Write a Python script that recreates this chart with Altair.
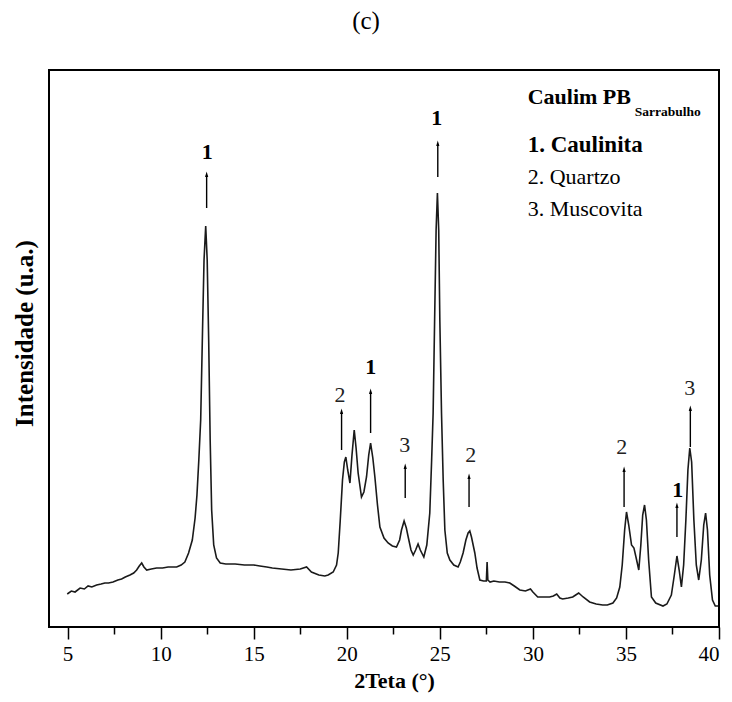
import altair as alt
import pandas as pd

# ---- difratograma (2Teta em graus, intensidade em u.a.) ----
angulo = [4.98, 5.2, 5.4, 5.67, 5.9, 6.1, 6.3, 6.56, 6.8, 7.0, 7.2, 7.44, 7.7, 7.9, 8.1, 8.35,
          8.55, 8.71, 8.85, 8.98, 9.1, 9.25, 9.5, 9.78, 10.1, 10.4, 10.86, 11.1, 11.3, 11.5,
          11.7, 11.85, 11.95, 12.05, 12.15, 12.25, 12.33, 12.42, 12.5, 12.58, 12.66, 12.74,
          12.85, 13.0, 13.2, 13.5, 14.0, 14.5, 15.0, 15.33, 15.7, 16.0, 16.5, 17.0, 17.5,
          17.84, 18.1, 18.5, 18.82, 19.0, 19.27, 19.45, 19.54, 19.65, 19.77, 19.87, 19.95,
          20.05, 20.17, 20.28, 20.4, 20.5, 20.61, 20.79, 20.92, 21.06, 21.18, 21.28, 21.4,
          21.51, 21.65, 21.78, 22.0, 22.22, 22.45, 22.67, 22.84, 22.94, 23.08, 23.2, 23.3,
          23.45, 23.57, 23.7, 23.83, 23.95, 24.14, 24.3, 24.46, 24.56, 24.64, 24.72, 24.8,
          24.87, 24.94, 25.0, 25.09, 25.18, 25.27, 25.4, 25.54, 25.75, 25.98, 26.1, 26.25,
          26.4, 26.52, 26.61, 26.7, 26.88, 27.0, 27.15, 27.35, 27.5, 27.54, 27.58, 27.7,
          27.9, 28.2, 28.5, 28.76, 29.0, 29.3, 29.6, 29.87, 30.0, 30.26, 30.6, 30.9, 31.1,
          31.28, 31.45, 31.6, 31.9, 32.14, 32.3, 32.46, 32.7, 33.05, 33.4, 33.75, 34.0, 34.3,
          34.5, 34.67, 34.8, 34.93, 35.03, 35.15, 35.3, 35.43, 35.55, 35.69, 35.8, 35.9, 36.0,
          36.1, 36.22, 36.37, 36.6, 36.99, 37.2, 37.44, 37.6, 37.74, 37.86, 37.98, 38.1,
          38.22, 38.33, 38.43, 38.53, 38.65, 38.78, 38.91, 39.05, 39.18, 39.28, 39.38, 39.5,
          39.65, 39.8, 39.95]
intensidade = [33, 36, 35, 39, 38, 41, 40, 42, 43, 44, 44, 45, 47, 48, 50, 52,
               54, 57, 61, 64, 60, 57, 58, 59, 59, 60, 60, 62, 65, 74,
               87, 109, 132, 167, 207, 297, 367, 401, 367, 287, 187, 117,
               82, 69, 64, 63, 63, 62, 62, 61, 60, 59, 58, 57, 58,
               60, 55, 52, 51, 52, 55, 62, 74, 107, 147, 165, 170,
               157, 144, 172, 197, 179, 154, 130, 135, 150, 172, 184, 169,
               150, 122, 100, 89, 84, 81, 80, 87, 97, 106, 99, 90,
               77, 72, 77, 83, 77, 70, 82, 114, 167, 214, 307, 397,
               434, 397, 307, 214, 147, 97, 74, 67, 62, 60, 65, 74,
               87, 94, 96, 90, 74, 59, 47, 46, 46, 65, 47, 45,
               46, 45, 45, 44, 41, 37, 36, 38, 35, 30, 30, 30, 31,
               33, 29, 28, 29, 30, 32, 34, 30, 25, 23, 22, 22, 24,
               29, 40, 62, 97, 115, 102, 82, 79, 69, 57, 82, 112, 122,
               107, 67, 30, 24, 21, 23, 32, 52, 71, 57, 40, 62,
               107, 157, 179, 165, 107, 62, 47, 67, 102, 114, 97, 52,
               27, 21, 21]

# ---- setas de identificação das fases ----
seta_x = [12.47, 24.89, 19.72, 21.28, 23.14, 26.57, 34.90, 37.74, 38.46]
seta_base = [419, 450, 177, 194, 129, 120, 120, 90, 180]
seta_topo = [456, 487, 219, 239, 164, 154, 161, 125, 222]
rotulo = ["1", "1", "2", "1", "3", "2", "2", "1", "3"]
rotulo_x = [12.50, 24.84, 19.63, 21.29, 23.12, 26.66, 34.77, 37.78, 38.43]
rotulo_y = [475, 509, 232, 260, 182, 172, 180, 137, 239]

# ---- legenda ----
legenda_texto = ["Caulim PB", "Sarrabulho", "1. Caulinita", "2. Quartzo", "3. Muscovita"]
legenda_x = [29.72, 35.47, 29.72, 29.72, 29.72]
legenda_y = [530, 515, 482, 450, 418]
legenda_estilo = ["titulo", "sub", "negrito", "normal", "normal"]

eixo_valores = [5, 7.5, 10, 12.5, 15, 17.5, 20, 22.5, 25, 27.5, 30, 32.5, 35, 37.5, 40]

FONT = "Liberation Serif"

df = pd.DataFrame({"angulo": angulo, "intensidade": intensidade})
df_seta = pd.DataFrame({"x": seta_x, "base": seta_base, "topo": seta_topo})
df_seta["haste"] = df_seta["topo"] - 4
df_rot = pd.DataFrame({"x": rotulo_x, "y": rotulo_y, "t": rotulo})
df_leg = pd.DataFrame({"x": legenda_x, "y": legenda_y, "t": legenda_texto, "e": legenda_estilo})

xscale = alt.Scale(domain=[4, 40], nice=False, zero=False)
yscale = alt.Scale(domain=[0, 557], nice=False, zero=False)

linha = alt.Chart(df).mark_line(color="#1a1a1a", strokeWidth=1.6, clip=True).encode(
    x=alt.X("angulo:Q", scale=xscale, axis=alt.Axis(
        values=eixo_valores,
        labelExpr="datum.value % 5 === 0 ? format(datum.value, 'd') : ''",
        tickSize={"condition": {"test": "datum.value % 5 === 0", "value": 12}, "value": 7},
        tickWidth=1.5, grid=False, domain=False,
        labelFontSize=21, labelPadding=4,
        title="2Teta (°)", titleFontSize=22, titleFontWeight="bold",
        titlePadding=6, titleX=345)),
    y=alt.Y("intensidade:Q", scale=yscale, axis=alt.Axis(
        labels=False, ticks=False, domain=False, grid=False,
        title="Intensidade (u.a.)", titleFontSize=25, titleFontWeight="bold",
        titlePadding=12, titleY=263)),
)

haste = alt.Chart(df_seta).mark_rule(color="black", strokeWidth=1.4).encode(
    x=alt.X("x:Q", scale=xscale), y=alt.Y("base:Q", scale=yscale), y2="haste:Q")

cabeca = alt.Chart(df_seta).mark_point(
    shape="M0,-1L0.45,0.6L-0.45,0.6Z", filled=True, color="black", size=50, opacity=1
).encode(x=alt.X("x:Q", scale=xscale), y=alt.Y("haste:Q", scale=yscale))

rot_bold = alt.Chart(df_rot).transform_filter("datum.t === '1'").mark_text(
    font=FONT, fontSize=22, fontWeight="bold", color="black", baseline="middle"
).encode(x=alt.X("x:Q", scale=xscale), y=alt.Y("y:Q", scale=yscale), text="t:N")

rot_norm = alt.Chart(df_rot).transform_filter("datum.t !== '1'").mark_text(
    font=FONT, fontSize=22, color="#222222", baseline="middle"
).encode(x=alt.X("x:Q", scale=xscale), y=alt.Y("y:Q", scale=yscale), text="t:N")

def leg(estilo, size, weight):
    return alt.Chart(df_leg).transform_filter(f"datum.e === '{estilo}'").mark_text(
        font=FONT, fontSize=size, fontWeight=weight, color="black",
        align="left", baseline="middle"
    ).encode(x=alt.X("x:Q", scale=xscale), y=alt.Y("y:Q", scale=yscale), text="t:N")

chart = alt.layer(
    linha, haste, cabeca, rot_bold, rot_norm,
    leg("titulo", 22, "bold"), leg("sub", 13.5, "bold"),
    leg("negrito", 23, "bold"), leg("normal", 22, "normal"),
).properties(
    width=670, height=557,
    autosize="none",
    padding={"left": 49, "top": 70, "right": 13, "bottom": 75},
    title=alt.TitleParams("(c)", font=FONT, fontSize=25, fontWeight="normal",
                          color="black", anchor="middle", offset=36, dx=-18),
).configure_view(
    stroke="black", strokeWidth=2
).configure_axis(
    labelFont=FONT, titleFont=FONT, labelColor="black", titleColor="black",
    tickColor="black"
)

chart.save("out.html", embed_options={"renderer": "svg", "actions": False})
